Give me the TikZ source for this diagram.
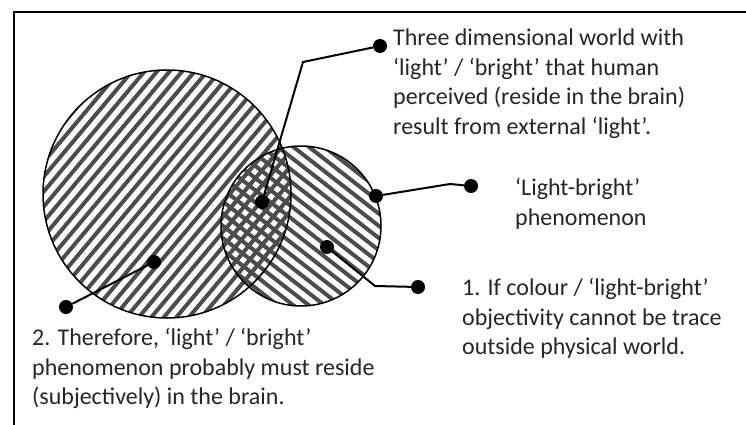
\documentclass[tikz,border=0pt]{standalone}
\usepackage{fontspec}
\setmainfont{Carlito}
\begin{document}
\begin{tikzpicture}[x=1pt,y=-1pt,
  hatch/.style={line width=4pt, draw=black!70},
  outline/.style={line width=1.5pt, draw=black},
  conn/.style={line width=2pt, draw=black},
  dot/.style={circle, fill=black, inner sep=0pt, minimum size=14pt},
  lbl/.style={font=\fontsize{24}{29.5}\selectfont, align=left, anchor=north west, inner sep=0pt, text=black!85}]
\useasboundingbox (0,0) rectangle (746,425);
\fill[white] (0,0) rectangle (746,425);
\draw[line width=2.5pt] (14,425) -- (14,12) -- (746,12);
% hatching of the large circle
\begin{scope}[shift={(167,194)}]
  \clip (0,0) circle (124);
  \begin{scope}[rotate=50]
    \foreach \i in {-14,...,14} \draw[hatch] (-130,\i*9.6) -- (130,\i*9.6);
  \end{scope}
\end{scope}
% hatching of the small circle
\begin{scope}[shift={(301,226)}]
  \clip (0,0) circle (80);
  \begin{scope}[rotate=-38]
    \foreach \i in {-10,...,10} \draw[hatch] (-90,\i*9.6) -- (90,\i*9.6);
  \end{scope}
\end{scope}
\draw[outline] (167,194) circle (124);
\draw[outline] (301,226) circle (80);
% dots
\node[dot] (dint) at (262,202) {};
\node[dot] (dsr) at (376,196) {};
\node[dot] (dsin) at (327,247) {};
\node[dot] (dbig) at (154,262) {};
\node[dot] (dbl) at (66,307) {};
\node[dot] (dtop) at (380,46) {};
\node[dot] (dlb) at (471,186) {};
\node[dot] (dbr) at (418,287) {};
\coordinate (btop) at (303,62);
\coordinate (blb) at (450,184);
\coordinate (bbr) at (375,286);
\draw[conn] (dint) -- (btop) -- (dtop);
\draw[conn] (dsr) -- (blb) -- (dlb);
\draw[conn] (dsin) -- (bbr) -- (dbr);
\draw[conn] (dbig) -- (dbl);
% texts
\node[lbl] (ttop) at (393,29) {Three dimensional world with\\‘light’ / ‘bright’ that human\\perceived (reside in the brain)\\result from external ‘light’.};
\node[lbl] (tlb) at (515,178) {‘Light-bright’\\phenomenon};
\node[lbl] (tbr) at (462,278) {1. If colour / ‘light-bright’\\objectivity cannot be trace\\outside physical world.};
\node[lbl] (tbl) at (32,328) {2. Therefore, ‘light’ / ‘bright’\\phenomenon probably must reside\\(subjectively) in the brain.};
\end{tikzpicture}
\end{document}
